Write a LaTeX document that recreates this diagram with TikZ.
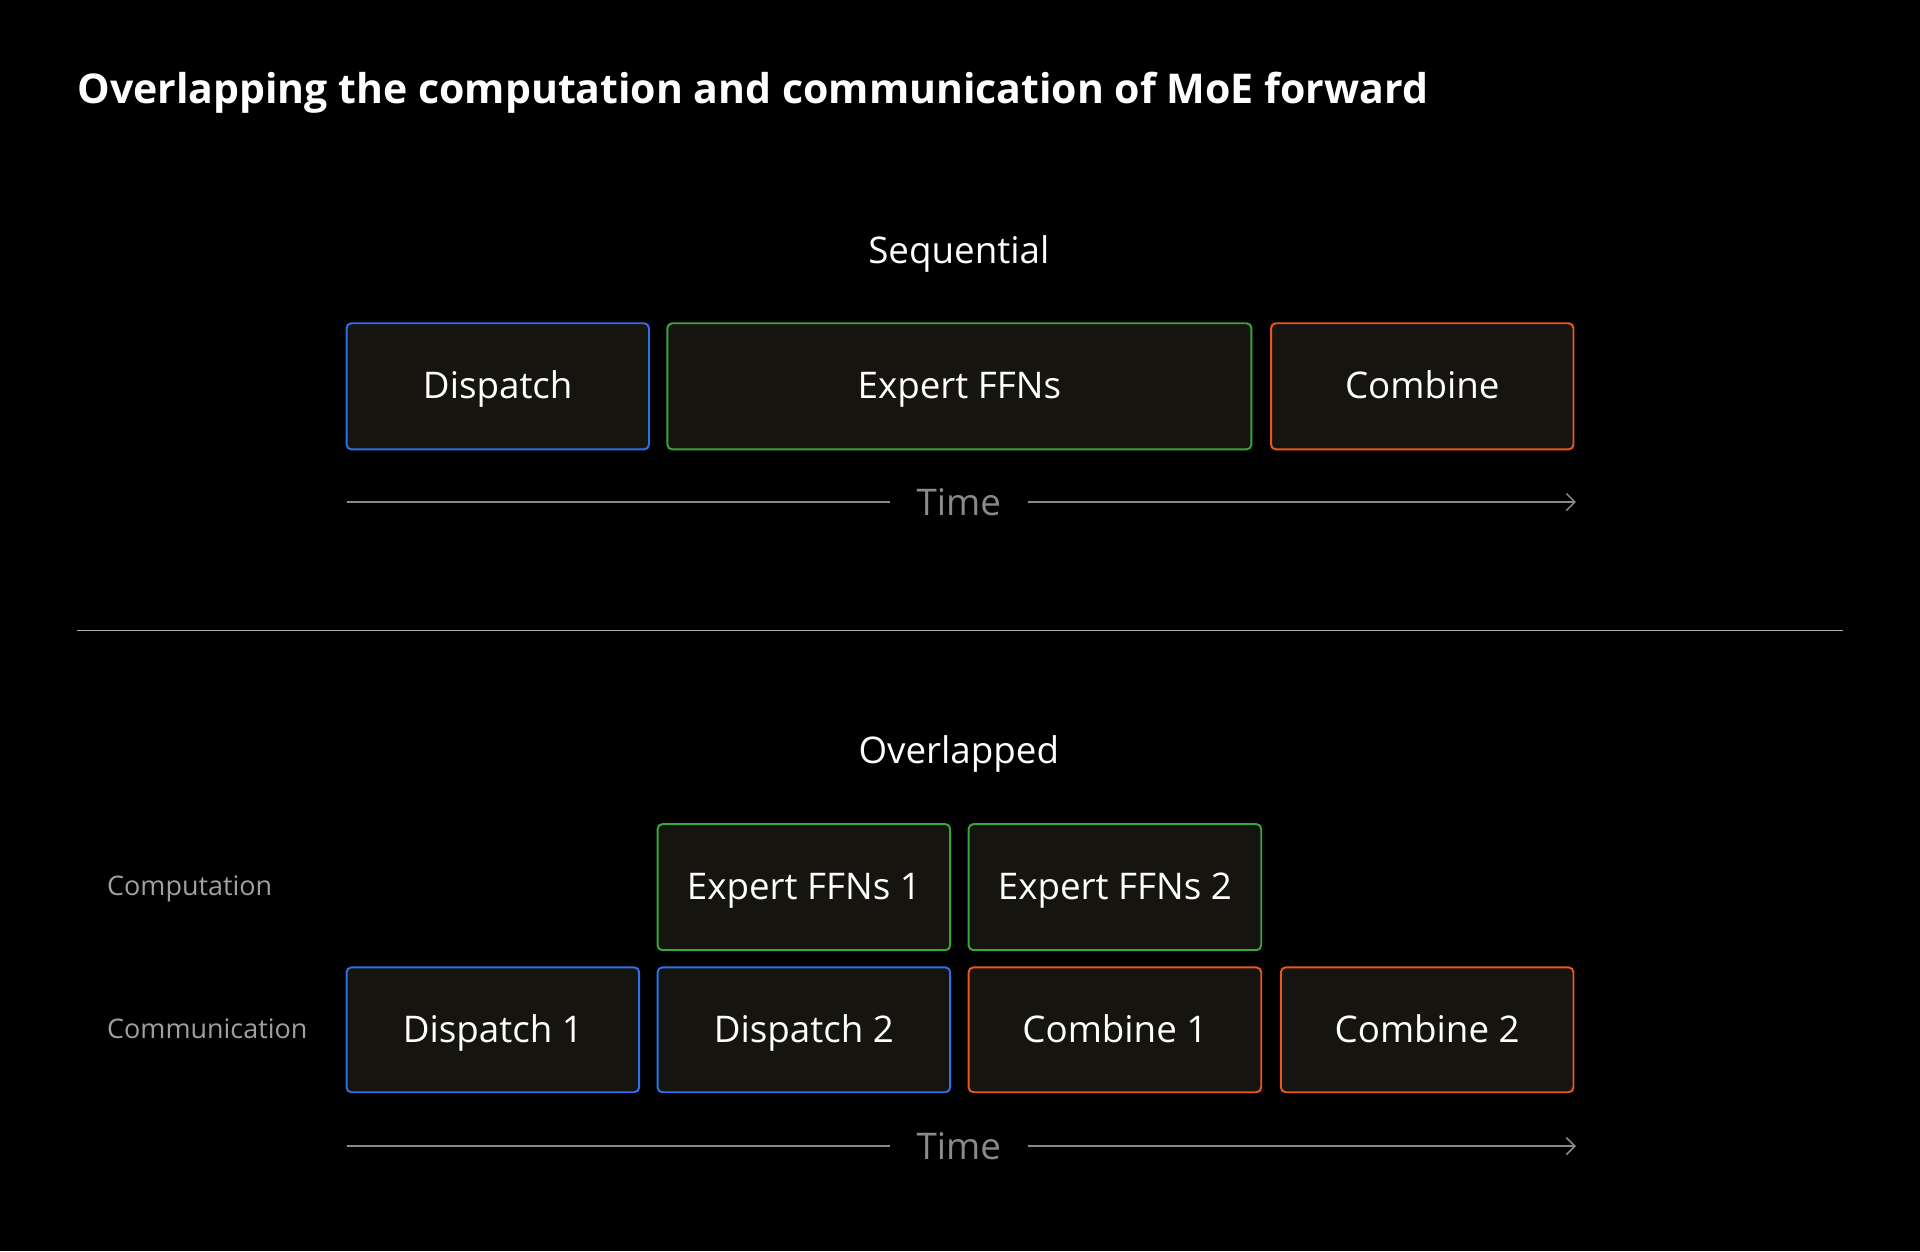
\documentclass[tikz,border=0pt]{standalone}
\usepackage{fontspec}
\setmainfont{Open Sans}
\usetikzlibrary{arrows.meta}
\begin{document}
\begin{tikzpicture}[x=1pt,y=-1pt,
 box/.style={draw,line width=1.6pt,rounded corners=4pt,fill=boxfill,text=white,font=\fontsize{30}{34}\selectfont,text height=21pt,text depth=1pt},
 axis/.style={draw=axisgray,line width=1.2pt},
 lbl/.style={text=labgray,font=\fontsize{22}{26}\selectfont,anchor=west,text height=16pt,text depth=4pt}]
\definecolor{boxfill}{HTML}{16140F}
\definecolor{cblue}{HTML}{2F6FEA}
\definecolor{cgreen}{HTML}{3AA53A}
\definecolor{corange}{HTML}{E8581C}
\definecolor{axisgray}{HTML}{8A8A8A}
\definecolor{labgray}{HTML}{A0A0A0}
\fill[black] (0,0) rectangle (1568,1022);
\useasboundingbox (0,0) rectangle (1568,1022);
\node[anchor=west,text=white,font=\fontsize{33.5}{38}\selectfont\bfseries,inner sep=0pt] (title) at (63,76) {Overlapping the computation and communication of MoE forward};
\node[text=white,font=\fontsize{30}{34}\selectfont] (seq) at (783,207) {Sequential};
\path[box,draw=cblue] (283,264) rectangle node (d) {Dispatch} (530,367);
\path[box,draw=cgreen] (545,264) rectangle node (e) {Expert FFNs} (1022,367);
\path[box,draw=corange] (1038,264) rectangle node (c) {Combine} (1285,367);
\node[text=axisgray,font=\fontsize{30}{34}\selectfont,inner xsep=0pt,minimum width=112pt] (t1) at (783,410) {Time};
\coordinate (a1) at (283,410); \coordinate (b1) at (1287,410);
\draw[axis] (a1) -- (t1.west);
\draw[axis,-{Straight Barb[length=7pt]}] (t1.east) -- (b1);
\coordinate (l1) at (63,515); \coordinate (l2) at (1505,515);
\draw[draw=axisgray!70,line width=1.2pt] (l1) -- (l2);
\node[text=white,font=\fontsize{30}{34}\selectfont] (ov) at (783,616) {Overlapped};
\node[lbl] (comp) at (84,725) {Computation};
\node[lbl] (comm) at (84,842) {Communication};
\path[box,draw=cgreen] (537,673) rectangle node (e1) {Expert FFNs 1} (776,776);
\path[box,draw=cgreen] (791,673) rectangle node (e2) {Expert FFNs 2} (1030,776);
\path[box,draw=cblue] (283,790) rectangle node (d1) {Dispatch 1} (522,892);
\path[box,draw=cblue] (537,790) rectangle node (d2) {Dispatch 2} (776,892);
\path[box,draw=corange] (791,790) rectangle node (c1) {Combine 1} (1030,892);
\path[box,draw=corange] (1046,790) rectangle node (c2) {Combine 2} (1285,892);
\node[text=axisgray,font=\fontsize{30}{34}\selectfont,inner xsep=0pt,minimum width=112pt] (t2) at (783,936) {Time};
\coordinate (a2) at (283,936); \coordinate (b2) at (1287,936);
\draw[axis] (a2) -- (t2.west);
\draw[axis,-{Straight Barb[length=7pt]}] (t2.east) -- (b2);
\end{tikzpicture}
\end{document}
